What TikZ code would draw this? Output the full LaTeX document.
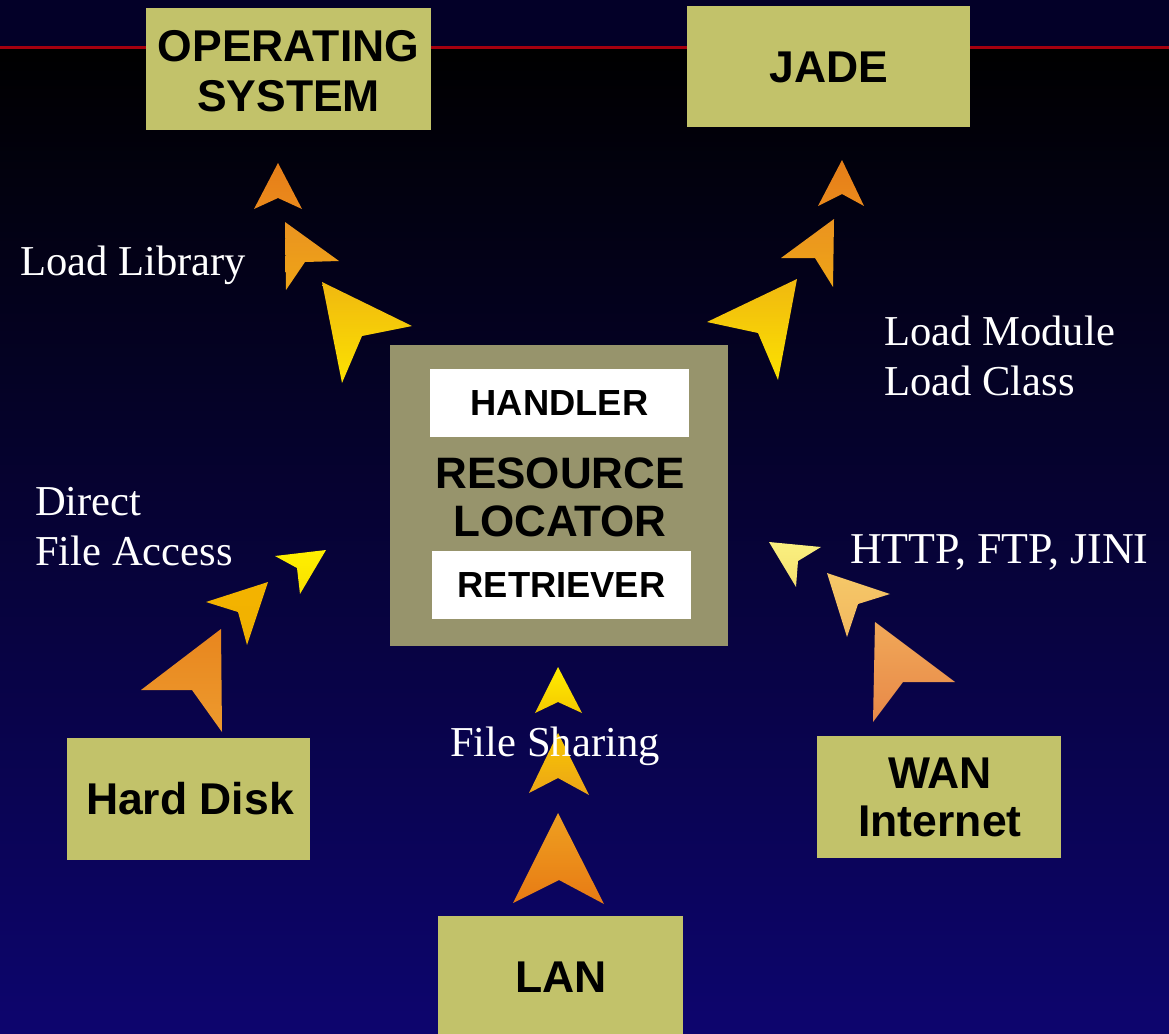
\documentclass[tikz,border=0pt]{standalone}
\usepackage{fontspec}
\setmainfont{Liberation Serif}
\setsansfont{Liberation Sans}
\definecolor{bgtop}{RGB}{3,0,40}
\definecolor{bgbot}{RGB}{13,5,110}
\definecolor{redline}{RGB}{165,0,15}
\definecolor{boxc}{RGB}{194,194,106}
\definecolor{rlc}{RGB}{151,148,108}
\definecolor{ora}{RGB}{229,126,24}
\definecolor{orb}{RGB}{235,138,28}
\definecolor{oma}{RGB}{234,147,32}
\definecolor{omb}{RGB}{239,165,22}
\definecolor{yla}{RGB}{240,184,16}
\definecolor{ylb}{RGB}{252,226,0}
\definecolor{caa}{RGB}{232,134,30}
\definecolor{cab}{RGB}{237,154,46}
\definecolor{cba}{RGB}{244,180,0}
\definecolor{cbb}{RGB}{240,176,0}
\definecolor{cca}{RGB}{255,240,0}
\definecolor{ccb}{RGB}{248,224,0}
\definecolor{daa}{RGB}{250,240,128}
\definecolor{dab}{RGB}{245,224,112}
\definecolor{dba}{RGB}{245,200,104}
\definecolor{dbb}{RGB}{242,184,96}
\definecolor{dca}{RGB}{240,168,88}
\definecolor{dcb}{RGB}{232,136,72}
\definecolor{eaa}{RGB}{255,238,0}
\definecolor{eab}{RGB}{245,200,0}
\definecolor{eba}{RGB}{248,200,0}
\definecolor{ebb}{RGB}{236,164,24}
\definecolor{eca}{RGB}{238,160,32}
\definecolor{ecb}{RGB}{232,122,20}
\newcommand\chevr[6]{\shade[top color=#5, bottom color=#6] #1 -- #2 -- #3 -- #4 -- cycle;}
\begin{document}
\begin{tikzpicture}[x=1pt,y=-1pt,
 pane/.style={fill=boxc, inner sep=0pt},
 panetext/.style={inner sep=0pt, align=center, text=black, font=\sffamily\bfseries\fontsize{44.5}{49}\selectfont},
 whitepane/.style={fill=white, inner sep=0pt, text=black, font=\sffamily\bfseries\fontsize{36.3}{40}\selectfont},
 lbl/.style={text=white, inner sep=0pt, anchor=base west, font=\fontsize{42.6}{50}\selectfont}]
\useasboundingbox (0,0) rectangle (1169,1033);
\fill[bgtop] (0,0) rectangle (1169,48);
\shade[top color=black, bottom color=bgbot] (0,48) rectangle (1169,1033);
\draw[redline, line width=2.7pt] (0,47.7) -- (1169,47.7);

% boxes
\node[pane, minimum width=285pt, minimum height=122pt] (os) at (288.5,69) {};
\node[panetext, font=\sffamily\bfseries\fontsize{44.5}{50}\selectfont] (ostext) at (288.5,71.5) {OPERATING\\SYSTEM};
\node[pane, minimum width=283pt, minimum height=121pt] (jade) at (828.5,66.5) {};
\node[panetext] (jadetext) at (829,67) {JADE};
\node[fill=rlc, minimum width=338pt, minimum height=301pt, inner sep=0pt] (rl) at (559,495.3) {};
\node[panetext, font=\sffamily\bfseries\fontsize{44}{48}\selectfont] (rltext) at (560,497) {RESOURCE\\LOCATOR};
\node[whitepane, minimum width=259pt, minimum height=68pt] (handler) at (559.5,403) {HANDLER};
\node[whitepane, minimum width=259pt, minimum height=68pt] (retriever) at (561.5,585) {RETRIEVER};
\node[pane, minimum width=243pt, minimum height=122pt] (disk) at (188.5,799) {};
\node[panetext] (disktext) at (190,799) {Hard Disk};
\node[pane, minimum width=244pt, minimum height=122pt] (wan) at (939,797) {};
\node[panetext, font=\sffamily\bfseries\fontsize{44.5}{48}\selectfont] (wantext) at (940,797.5) {WAN\\Internet};
\node[pane, minimum width=245pt, minimum height=124pt] (lan) at (560.5,978) {};
\node[panetext] (lantext) at (561,977) {LAN};

% arrowheads toward operating system
\chevr{(278,163)}{(254,209)}{(278,198)}{(302,209)}{ora}{orb}
\chevr{(285,222)}{(339,261)}{(305,262)}{(286,290)}{oma}{omb}
\chevr{(322,282)}{(412,326)}{(362,336)}{(342,383)}{yla}{ylb}
% toward jade
\chevr{(842,160)}{(818,206)}{(842,194)}{(864,206)}{ora}{orb}
\chevr{(834,219)}{(781,258)}{(815,258)}{(833,287)}{oma}{omb}
\chevr{(797,279)}{(707,322)}{(758,333)}{(778,380)}{yla}{ylb}
% from hard disk
\chevr{(221,629)}{(141,690)}{(192,690)}{(222,732)}{caa}{cab}
\chevr{(268,582)}{(206,602)}{(238,612)}{(247,645)}{cba}{cbb}
\chevr{(326,550)}{(275,556)}{(297,568)}{(300,594)}{cca}{ccb}
% from wan
\chevr{(769,542)}{(821,547)}{(798,561)}{(796,587)}{daa}{dab}
\chevr{(827,573)}{(890,594)}{(858,604)}{(847,637)}{dba}{dbb}
\chevr{(875,622)}{(955,682)}{(903,682)}{(873,722)}{dca}{dcb}
% from lan
\chevr{(558,667)}{(535,713)}{(558,702)}{(582,713)}{eaa}{eab}
\chevr{(558,733)}{(529,793)}{(558,778)}{(589,795)}{eba}{ebb}
\chevr{(558,813)}{(513,903)}{(559,880)}{(604,904)}{eca}{ecb}

% labels
\node[lbl] (loadlib) at (20,275) {Load Library};
\node[lbl] (loadmod) at (884,345) {Load Module};
\node[lbl] (loadcls) at (884,395) {Load Class};
\node[lbl] (direct) at (35,515) {Direct};
\node[lbl] (fileacc) at (35,565.7) {File Access};
\node[lbl, font=\fontsize{44}{50}\selectfont] (http) at (850,563) {HTTP, FTP, JINI};
\node[lbl, anchor=base] (share) at (555,756) {File Sharing};
\end{tikzpicture}
\end{document}
